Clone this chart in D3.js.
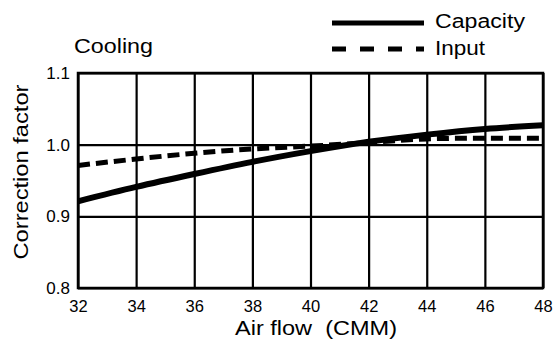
<!DOCTYPE html>
<html>
<head>
<meta charset="utf-8">
<script src="https://cdn.jsdelivr.net/npm/d3@7"></script>
<style>
  html, body { margin: 0; padding: 0; background: #fff; }
  svg { display: block; font-family: "Liberation Sans", Arial, sans-serif; }
</style>
</head>
<body>
<svg id="chart" width="558" height="342"></svg>
<script>
const airFlow = [32, 34, 36, 38, 40, 42, 44, 46, 48];
const capacity = [0.921, 0.941, 0.959, 0.976, 0.991, 1.004, 1.014, 1.022, 1.027];
const input    = [0.971, 0.980, 0.988, 0.994, 0.998, 1.003, 1.008, 1.009, 1.009];
const xTicks = [32, 34, 36, 38, 40, 42, 44, 46, 48];
const yTicks = [0.8, 0.9, 1.0, 1.1];
const seriesNames = ["Capacity", "Input"];

const svg = d3.select("#chart");
const mL = 78, mR = 543, mT = 73, mB = 288;

const x = d3.scaleLinear().domain([32, 48]).range([mL, mR]);
const y = d3.scaleLinear().domain([0.8, 1.1]).range([mB, mT]);

// grid + x axis
const gx = svg.append("g")
  .attr("transform", `translate(0,${mB})`)
  .call(d3.axisBottom(x).tickValues(xTicks).tickSize(-(mB - mT)).tickPadding(12).tickFormat(d3.format("d")));
gx.select(".domain").remove();
gx.selectAll(".tick line").attr("stroke", "#000").attr("stroke-width", 2.2);
gx.selectAll(".tick text").attr("font-size", 16.5).attr("fill", "#000")
  .attr("font-family", "Liberation Sans, Arial, sans-serif");

const gy = svg.append("g")
  .attr("transform", `translate(${mL},0)`)
  .call(d3.axisLeft(y).tickValues(yTicks).tickSize(-(mR - mL)).tickPadding(8).tickFormat(d3.format(".1f")));
gy.select(".domain").remove();
gy.selectAll(".tick line").attr("stroke", "#000").attr("stroke-width", 2.2);
gy.selectAll(".tick text").attr("font-size", 17).attr("fill", "#000")
  .attr("font-family", "Liberation Sans, Arial, sans-serif");

// border
svg.append("rect")
  .attr("x", mL).attr("y", mT)
  .attr("width", mR - mL).attr("height", mB - mT)
  .attr("fill", "none").attr("stroke", "#000").attr("stroke-width", 2.5);

// lines
svg.append("clipPath").attr("id", "clip")
  .append("rect").attr("x", mL).attr("y", mT).attr("width", mR - mL).attr("height", mB - mT);

const line = d3.line().x((d, i) => x(airFlow[i])).y(d => y(d)).curve(d3.curveNatural);

svg.append("path")
  .attr("clip-path", "url(#clip)")
  .attr("d", line(capacity))
  .attr("fill", "none").attr("stroke", "#000").attr("stroke-width", 6);

svg.append("path")
  .attr("clip-path", "url(#clip)")
  .attr("d", line(input))
  .attr("fill", "none").attr("stroke", "#000").attr("stroke-width", 5)
  .attr("stroke-dasharray", "12,6");

// title
svg.append("text").attr("x", 74).attr("y", 53)
  .attr("font-size", 20).attr("textLength", 79).attr("lengthAdjust", "spacingAndGlyphs")
  .text("Cooling");

// legend
const legY = [23, 49];
svg.append("line").attr("x1", 332).attr("x2", 424).attr("y1", legY[0]).attr("y2", legY[0])
  .attr("stroke", "#000").attr("stroke-width", 5);
svg.append("line").attr("x1", 332).attr("x2", 424).attr("y1", legY[1]).attr("y2", legY[1])
  .attr("stroke", "#000").attr("stroke-width", 5).attr("stroke-dasharray", "14,14");
svg.append("text").attr("x", 435).attr("y", 28).attr("font-size", 20)
  .attr("textLength", 90).attr("lengthAdjust", "spacingAndGlyphs").text(seriesNames[0]);
svg.append("text").attr("x", 435).attr("y", 55).attr("font-size", 20)
  .attr("textLength", 50).attr("lengthAdjust", "spacingAndGlyphs").text(seriesNames[1]);

// axis titles
svg.append("text").attr("x", 235).attr("y", 335).attr("font-size", 20)
  .attr("textLength", 162).attr("lengthAdjust", "spacingAndGlyphs")
  .style("white-space", "pre").text("Air flow  (CMM)");

svg.append("text")
  .attr("transform", "translate(28,172) rotate(-90)")
  .attr("text-anchor", "middle").attr("font-size", 20)
  .attr("textLength", 175).attr("lengthAdjust", "spacingAndGlyphs")
  .text("Correction factor");
</script>
</body>
</html>
